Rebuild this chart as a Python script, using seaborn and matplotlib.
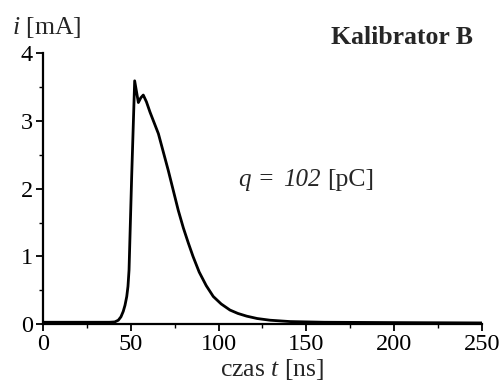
import matplotlib
matplotlib.use("Agg")
import matplotlib.pyplot as plt
import seaborn as sns
import pandas as pd
from matplotlib.ticker import MultipleLocator

t_ns = [0, 20, 38, 41, 43, 44.5, 45.8, 46.8, 47.8, 48.5, 49.1, 50.6, 52.3,
        54.4, 55.8, 57.2, 59, 61, 65.8, 71.4, 77.1, 80, 82.8, 85.5, 89, 93,
        97, 101.5, 106.5, 111, 116, 122, 129.3, 140.7, 160, 200, 250]
i_mA = [0.03, 0.03, 0.03, 0.035, 0.06, 0.11, 0.19, 0.28, 0.41, 0.56, 0.8, 2.18, 3.59,
        3.27, 3.34, 3.38, 3.28, 3.13, 2.81, 2.27, 1.68, 1.42, 1.2, 1.0, 0.77, 0.57,
        0.41, 0.30, 0.21, 0.16, 0.12, 0.085, 0.06, 0.04, 0.03, 0.025, 0.02]
x_ticks = [0, 50, 100, 150, 200, 250]
y_ticks = [0, 1, 2, 3, 4]

sns.set_style("ticks")
plt.rcParams['font.family'] = ['Liberation Serif', 'DejaVu Serif']
plt.rcParams['mathtext.fontset'] = 'custom'
plt.rcParams['mathtext.rm'] = 'Liberation Serif'
plt.rcParams['mathtext.it'] = 'Liberation Serif:italic'

df = pd.DataFrame({"t": t_ns, "i": i_mA})

fig = plt.figure(figsize=(5.03, 3.83), dpi=100)
ax = fig.add_axes([0.0849, 0.1533, 0.8739, 0.7083])
sns.lineplot(data=df, x="t", y="i", ax=ax, color="black", linewidth=2.0)

ax.set_xlim(0, 250)
ax.set_ylim(0, 4)
ax.set_xticks(x_ticks)
ax.set_yticks(y_ticks)
ax.xaxis.set_minor_locator(MultipleLocator(25))
ax.yaxis.set_minor_locator(MultipleLocator(0.5))
ax.set_xlabel("")
ax.set_ylabel("")
for s in ["top", "right"]:
    ax.spines[s].set_visible(False)
for s in ["left", "bottom"]:
    ax.spines[s].set_linewidth(1.6)
    ax.spines[s].set_color("black")
ax.tick_params(axis="both", which="major", direction="out", length=5, width=1.3,
               labelsize=17.5, pad=2, colors="black")
ax.tick_params(axis="both", which="minor", direction="out", length=3, width=1.0, colors="black")

fig.text(12/503, 1 - 27/383, r"$i$ [mA]", fontsize=18.5, ha="left", va="center")
fig.text(272/503, 1 - 370/383, r"czas $t$ [ns]", fontsize=18.5, ha="center", va="center")
fig.text(331/503, 1 - 37/383, "Kalibrator B", fontsize=18.5, fontweight="bold",
         ha="left", va="center")
tq = fig.text(239/503, 1 - 180/383, "q =", fontsize=18, fontstyle="italic",
              ha="left", va="center")
tn = ax.annotate("102", xy=(1, 0.5), xycoords=tq, xytext=(6, 0), textcoords="offset points",
                 fontsize=18, fontstyle="italic", ha="left", va="center")
ax.annotate("[pC]", xy=(1, 0.5), xycoords=tn, xytext=(5, 0), textcoords="offset points",
            fontsize=18.5, ha="left", va="center")

fig.savefig("out.png", dpi=100)
